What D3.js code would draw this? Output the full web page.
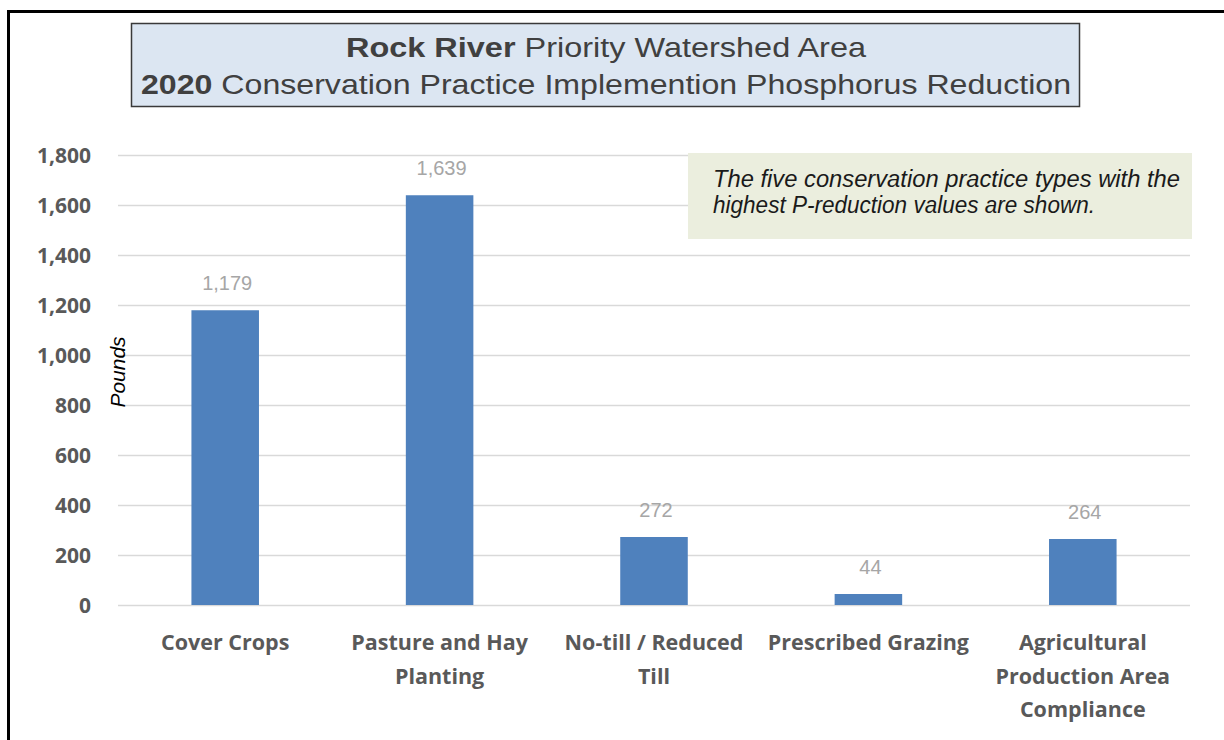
<!DOCTYPE html>
<html>
<head>
<meta charset="utf-8">
<script src="https://cdn.jsdelivr.net/npm/d3@7/dist/d3.min.js"></script>
<style>
  html, body { margin: 0; padding: 0; background: #fff; }
  svg { display: block; }
</style>
</head>
<body>
<svg id="chart" width="1224" height="740"></svg>
<script>
// ---- data ----
const categories = [
  "Cover Crops",
  "Pasture and Hay\nPlanting",
  "No-till / Reduced\nTill",
  "Prescribed Grazing",
  "Agricultural\nProduction Area\nCompliance"
];
const values = [1179, 1639, 272, 44, 264];
const yTicks = [0, 200, 400, 600, 800, 1000, 1200, 1400, 1600, 1800];
const titleLine1 = [["Rock River", true], [" Priority Watershed Area", false]];
const titleLine2 = [["2020", true], [" Conservation Practice Implemention Phosphorus Reduction", false]];
const noteLines = ["The five conservation practice types with the", "highest P-reduction values are shown."];
const yAxisTitle = "Pounds";

// ---- layout ----
const svg = d3.select("#chart");
const plot = { left: 118, right: 1190, top: 155, bottom: 605 };

const x = d3.scaleBand()
  .domain(categories)
  .range([plot.left, plot.right])
  .paddingInner(0.685)
  .paddingOuter(0.3425);
const y = d3.scaleLinear().domain([0, 1800]).range([plot.bottom, plot.top]);

// outer frame
svg.append("rect")
  .attr("x", 8.5).attr("y", 11.5).attr("width", 1400).attr("height", 900)
  .attr("fill", "none").attr("stroke", "#000").attr("stroke-width", 3);

// gridlines via axis
const grid = svg.append("g")
  .attr("transform", `translate(${plot.left},0)`)
  .call(d3.axisRight(y).tickValues(yTicks).tickSize(plot.right - plot.left).tickFormat(""));
grid.select(".domain").remove();
grid.selectAll(".tick line").attr("stroke", "#d9d9d9").attr("stroke-width", 1.5);

// y tick labels
const yAxis = svg.append("g")
  .attr("transform", `translate(91,0)`)
  .call(d3.axisLeft(y).tickValues(yTicks).tickSize(0).tickPadding(0).tickFormat(d3.format(",")));
yAxis.select(".domain").remove();
yAxis.selectAll("text")
  .attr("font-family", "'Open Sans', sans-serif")
  .attr("font-weight", "bold")
  .attr("font-size", 21)
  .attr("fill", "#595959")
  .attr("dy", "0.35em");

// y axis title
svg.append("text")
  .attr("transform", `translate(125,372) rotate(-90)`)
  .attr("text-anchor", "middle")
  .attr("font-family", "'Liberation Sans', Arial, sans-serif")
  .attr("font-style", "italic")
  .attr("font-size", 21)
  .attr("fill", "#000")
  .text(yAxisTitle);

// bars
svg.append("g").selectAll("rect")
  .data(values)
  .join("rect")
  .attr("x", (d, i) => x(categories[i]))
  .attr("width", x.bandwidth())
  .attr("y", d => y(d))
  .attr("height", d => y(0) - y(d))
  .attr("fill", "#4f81bd");

// value labels
svg.append("g").selectAll("text")
  .data(values)
  .join("text")
  .attr("x", (d, i) => x(categories[i]) + x.bandwidth() / 2 + 2)
  .attr("y", d => y(d) - 20)
  .attr("text-anchor", "middle")
  .attr("font-family", "'Liberation Sans', Arial, sans-serif")
  .attr("font-size", 20)
  .attr("fill", "#a6a6a6")
  .text(d => d3.format(",")(d));

// category labels
const cat = svg.append("g").selectAll("text")
  .data(categories)
  .join("text")
  .attr("text-anchor", "middle")
  .attr("font-family", "'Open Sans', sans-serif")
  .attr("font-weight", "bold")
  .attr("font-size", 21.5)
  .attr("fill", "#595959");
cat.each(function(d) {
  const t = d3.select(this);
  const cx = x(d) + x.bandwidth() / 2;
  d.split("\n").forEach((line, j) => {
    t.append("tspan").attr("x", cx).attr("y", 650 + j * 33.5).text(line);
  });
});

// note box
svg.append("rect")
  .attr("x", 688).attr("y", 153).attr("width", 504).attr("height", 86)
  .attr("fill", "#ebeede");
const noteLen = [467, 382];
svg.append("g").selectAll("text")
  .data(noteLines)
  .join("text")
  .attr("x", 713)
  .attr("y", (d, i) => 187 + i * 26)
  .attr("font-family", "'Liberation Sans', Arial, sans-serif")
  .attr("font-style", "italic")
  .attr("font-size", 23)
  .attr("fill", "#1a1a1a")
  .attr("textLength", (d, i) => noteLen[i])
  .attr("lengthAdjust", "spacingAndGlyphs")
  .text(d => d);

// title box
svg.append("rect")
  .attr("x", 131.5).attr("y", 23.5).attr("width", 948).attr("height", 83)
  .attr("fill", "#dce6f2").attr("stroke", "#3a3a3a").attr("stroke-width", 1.5);

function titleText(parts, baseline, len) {
  const t = svg.append("text")
    .attr("x", 606).attr("y", baseline)
    .attr("text-anchor", "middle")
    .attr("font-family", "'Liberation Sans', Arial, sans-serif")
    .attr("font-size", 27.5)
    .attr("fill", "#404040")
    .attr("textLength", len)
    .attr("lengthAdjust", "spacingAndGlyphs");
  parts.forEach(([s, b]) => t.append("tspan").attr("font-weight", b ? "bold" : "normal").text(s));
}
titleText(titleLine1, 57, 520);
titleText(titleLine2, 94, 930);
</script>
</body>
</html>
